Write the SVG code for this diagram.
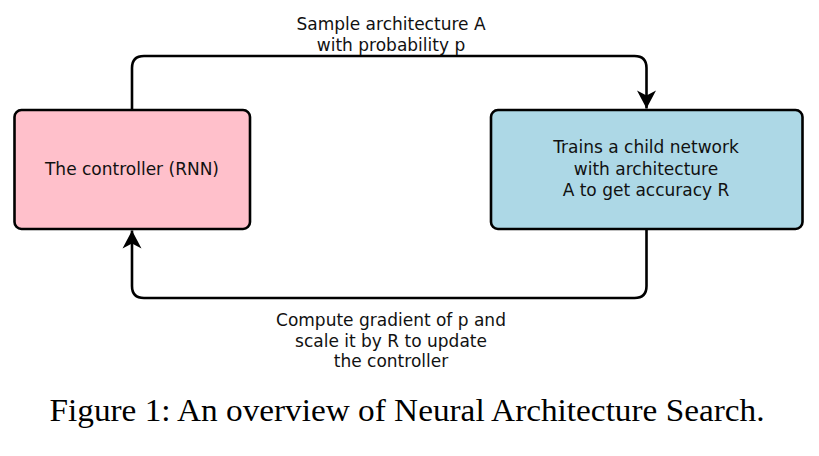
<svg xmlns="http://www.w3.org/2000/svg" width="819" height="456" viewBox="0 0 819 456">
  <defs>
    <marker id="arrow" markerUnits="userSpaceOnUse" markerWidth="24" markerHeight="24" viewBox="-20 -12 22 24" refX="0" refY="0" orient="auto">
      <path d="M0,0 L-18,-9.5 L-13,0 L-18,9.5 Z" fill="#000"/>
    </marker>
    <style>
      .box { stroke: #000; stroke-width: 2.6; }
      .lbl { font-family: "DejaVu Sans", sans-serif; font-size: 17px; fill: #111; text-anchor: middle; }
      .conn { fill: none; stroke: #000; stroke-width: 2.6; }
      .cap { font-family: "Liberation Serif", serif; font-size: 31px; fill: #000; text-anchor: middle; }
    </style>
  </defs>
  <rect width="819" height="456" fill="#fff"/>

  <g id="connectors">
    <path class="conn" d="M132,110 V68 Q132,56 144,56 H634.5 Q646.5,56 646.5,68 V108.5" marker-end="url(#arrow)"/>
    <text class="lbl" x="391" y="30">Sample architecture A</text>
    <text class="lbl" x="391" y="50.5">with probability p</text>
    <path class="conn" d="M646.5,229 V286 Q646.5,298 634.5,298 H144 Q132,298 132,286 V230.5" marker-end="url(#arrow)"/>
    <text class="lbl" x="391" y="326">Compute gradient of p and</text>
    <text class="lbl" x="391" y="346.5">scale it by R to update</text>
    <text class="lbl" x="391" y="367">the controller</text>
  </g>

  <g id="controller">
    <rect class="box" x="14.5" y="110" width="235.5" height="119" rx="7" fill="#FFC0CB"/>
    <text class="lbl" x="132" y="175">The controller (RNN)</text>
  </g>

  <g id="child-network">
    <rect class="box" x="491" y="110" width="311.5" height="119" rx="7" fill="#ADD8E6"/>
    <text class="lbl" x="646" y="153">Trains a child network</text>
    <text class="lbl" x="646" y="174.5">with architecture</text>
    <text class="lbl" x="646" y="196">A to get accuracy R</text>
  </g>

  <g id="caption">
    <text class="cap" x="407" y="421" textLength="715" lengthAdjust="spacingAndGlyphs">Figure 1: An overview of Neural Architecture Search.</text>
  </g>
</svg>
